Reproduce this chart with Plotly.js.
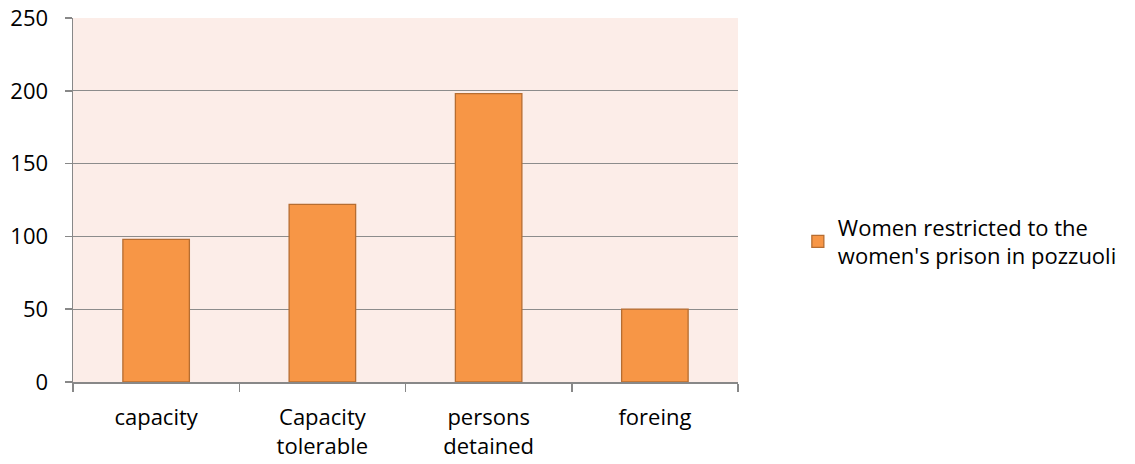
<!DOCTYPE html>
<html>
<head>
<meta charset="utf-8">
<script src="https://cdn.plot.ly/plotly-3.0.1.min.js"></script>
<style>html,body{margin:0;padding:0;background:#fff;}</style>
</head>
<body>
<div id="chart" style="width:1135px;height:464px;"></div>
<script>
const categories = ["capacity", "Capacity<br>tolerable", "persons<br>detained", "foreing"];
const values = [98, 122, 198, 50];
const seriesName = "Women restricted to the<br>women's prison in pozzuoli";
const yTicks = [0, 50, 100, 150, 200, 250];

const trace = {
  type: "bar",
  x: categories,
  y: values,
  name: seriesName,
  showlegend: true,
  marker: {color: "#F79646", line: {color: "#B66D31", width: 1.3}},
  hoverinfo: "x+y"
};

const layout = {
  width: 1135, height: 464,
  margin: {l: 73, r: 397, t: 18, b: 82},
  paper_bgcolor: "#ffffff",
  plot_bgcolor: "#FCEDE8",
  bargap: 0.6,
  font: {family: "Open Sans, Liberation Sans, sans-serif", size: 22, color: "#000"},
  xaxis: {
    type: "category",
    showline: true, linecolor: "#888", linewidth: 1.5,
    ticks: "outside", tickson: "boundaries", ticklen: 8, tickcolor: "#888", tickwidth: 1.5,
    showgrid: false,
    ticklabelstandoff: 15,
    tickfont: {size: 22}
  },
  yaxis: {
    range: [0, 250], tickvals: yTicks, ticktext: yTicks.map(String),
    showline: true, linecolor: "#888", linewidth: 1.5,
    ticks: "outside", ticklen: 7, tickcolor: "#888", tickwidth: 1.5,
    showgrid: true, gridcolor: "#8c8c8c", gridwidth: 1.3,
    zeroline: false,
    ticklabelstandoff: 12,
    tickfont: {size: 22}
  },
  showlegend: true,
  legend: {x: 1.09, y: 0.385, xanchor: "left", yanchor: "middle", font: {size: 22}, bgcolor: "rgba(0,0,0,0)"}
};

Plotly.newPlot("chart", [trace], layout, {displayModeBar: false, staticPlot: true});
</script>
</body>
</html>
